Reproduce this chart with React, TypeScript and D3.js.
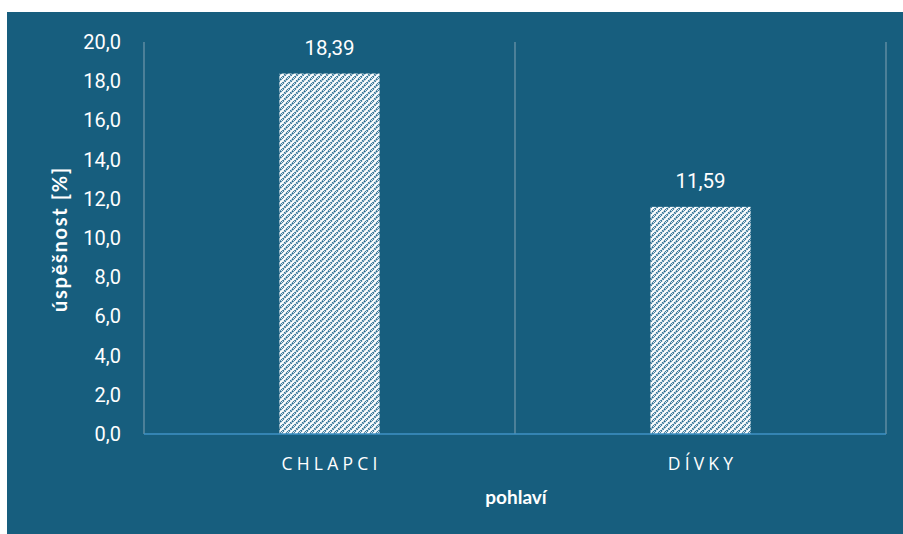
import React from "react";
import * as d3 from "d3";

// Success rate by gender
const categories: string[] = ["CHLAPCI", "DÍVKY"];
const values: number[] = [18.39, 11.59];
const yTickValues: number[] = [0, 2, 4, 6, 8, 10, 12, 14, 16, 18, 20];
const yTitle = "úspěšnost [%]";
const xTitle = "pohlaví";

const W = 903;
const H = 534;
const panel = { x: 7, y: 12, w: 896, h: 522 };
const plot = { left: 144, right: 886, top: 42, bottom: 434 };

const BG = "#175e7e";
const GRID = "#6a93a8";
const BASE = "#3f92c6";
const INK = "#23698f";

const fmt1 = (v: number) => d3.format(".1f")(v).replace(".", ",");
const fmt2 = (v: number) => d3.format(".2f")(v).replace(".", ",");

export default function App() {
  const x = d3
    .scaleBand<string>()
    .domain(categories)
    .range([plot.left, plot.right])
    .paddingInner(0)
    .paddingOuter(0);
  const y = d3.scaleLinear().domain([0, 20]).range([plot.bottom, plot.top]);

  const bw = x.bandwidth() * 0.27;
  const boundaries = [plot.left, ...categories.map((c) => (x(c) as number) + x.bandwidth())];

  return (
    <svg
      width={W}
      height={H}
      style={{ position: "absolute", left: 0, top: 0, display: "block" }}
    >
      <defs>
        <pattern id="upDiag" patternUnits="userSpaceOnUse" width={6} height={6}>
          <rect width={6} height={6} fill="#ffffff" />
          <path
            d="M-1,7 L7,-1 M-4,4 L4,-4 M2,10 L10,2"
            stroke={INK}
            strokeWidth={2.1}
            strokeDasharray="1.6 0.8"
          />
        </pattern>
      </defs>
      <rect x={panel.x} y={panel.y} width={panel.w} height={panel.h} fill={BG} />

      {/* category separators */}
      {boundaries.map((bx, i) => (
        <line
          key={i}
          x1={bx}
          x2={bx}
          y1={plot.top}
          y2={plot.bottom}
          stroke={GRID}
          strokeWidth={1.3}
        />
      ))}

      {/* bars */}
      {categories.map((c, i) => {
        const cx = (x(c) as number) + x.bandwidth() / 2;
        return (
          <g key={c}>
            <rect
              x={cx - bw / 2}
              y={y(values[i])}
              width={bw}
              height={y(0) - y(values[i])}
              fill="url(#upDiag)"
            />
            <text
              x={cx}
              y={y(values[i]) - 26}
              textAnchor="middle"
              dominantBaseline="central"
              fill="#ffffff"
              fontFamily="Roboto, sans-serif"
              fontSize={20.5}
            >
              {fmt2(values[i])}
            </text>
            <text
              x={cx + 2}
              y={463}
              textAnchor="middle"
              dominantBaseline="central"
              fill="#ffffff"
              fontFamily="'Open Sans', sans-serif"
              fontSize={17.5}
              letterSpacing={4.2}
            >
              {c}
            </text>
          </g>
        );
      })}

      {/* baseline */}
      <line
        x1={plot.left}
        x2={plot.right}
        y1={y(0)}
        y2={y(0)}
        stroke={BASE}
        strokeWidth={1.5}
      />

      {/* y ticks */}
      {yTickValues.map((t) => (
        <text
          key={t}
          x={121}
          y={y(t)}
          textAnchor="end"
          dominantBaseline="central"
          fill="#ffffff"
          fontFamily="Roboto, sans-serif"
          fontSize={20}
        >
          {fmt1(t)}
        </text>
      ))}

      <text
        transform={`translate(59,${(plot.top + plot.bottom) / 2 + 1}) rotate(-90)`}
        textAnchor="middle"
        dominantBaseline="central"
        fill="#ffffff"
        fontFamily="Lato, sans-serif"
        fontWeight="bold"
        fontSize={20}
        letterSpacing={1.7}
      >
        {yTitle}
      </text>
      <text
        x={(plot.left + plot.right) / 2 + 1}
        y={496}
        textAnchor="middle"
        dominantBaseline="central"
        fill="#ffffff"
        fontFamily="Lato, sans-serif"
        fontWeight="bold"
        fontSize={19}
      >
        {xTitle}
      </text>
    </svg>
  );
}
